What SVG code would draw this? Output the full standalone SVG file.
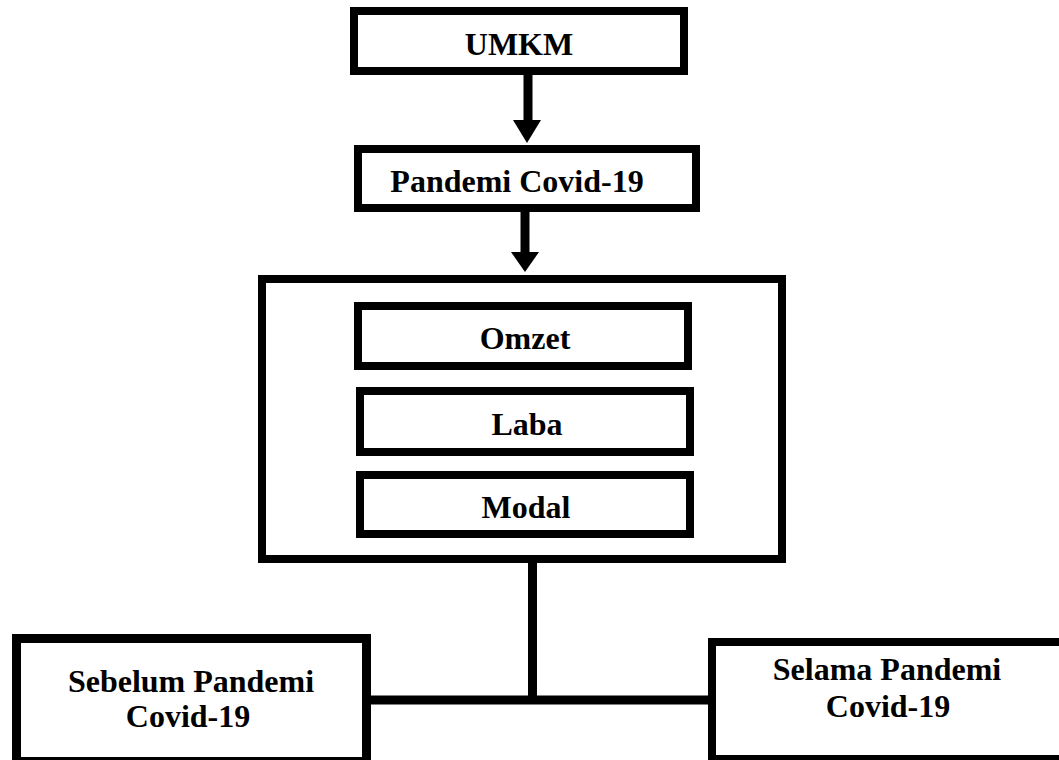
<svg xmlns="http://www.w3.org/2000/svg" width="1059" height="760" viewBox="0 0 1059 760">
<style>
.box{fill:#fff;stroke:#000;stroke-width:8}
.t{font-family:"Liberation Serif","Times New Roman",serif;font-weight:bold;font-size:32px;fill:#000;text-anchor:middle}
.ln{stroke:#000;stroke-width:9;fill:none}
</style>
<rect width="1059" height="760" fill="#fff"/>
<g id="connectors">
<line class="ln" x1="528" y1="75" x2="528" y2="122"/>
<polygon points="513,120 541,120 527,143"/>
<line class="ln" x1="525" y1="212" x2="525" y2="255"/>
<polygon points="511,252 539,252 525,272"/>
<line class="ln" x1="532.5" y1="562" x2="532.5" y2="701"/>
<line class="ln" x1="370" y1="700" x2="709" y2="700"/>
</g>
<g id="umkm">
<rect class="box" x="354" y="11" width="330" height="60" style="stroke-width:8"/>
<text class="t" x="519" y="55">UMKM</text>
</g>
<g id="pandemi">
<rect class="box" x="358" y="149" width="338" height="59"/>
<text class="t" x="517" y="192">Pandemi Covid-19</text>
</g>
<g id="group">
<rect class="box" x="262" y="279" width="520" height="280"/>
</g>
<g id="omzet">
<rect class="box" x="358" y="306" width="330" height="60"/>
<text class="t" x="525" y="349">Omzet</text>
</g>
<g id="laba">
<rect class="box" x="360" y="391" width="330" height="61"/>
<text class="t" x="527" y="435">Laba</text>
</g>
<g id="modal">
<rect class="box" x="360" y="475" width="330" height="59"/>
<text class="t" x="526" y="518">Modal</text>
</g>
<g id="sebelum">
<rect class="box" x="16.5" y="638.5" width="350" height="123" style="stroke-width:9"/>
<text class="t" x="191" y="692">Sebelum Pandemi</text>
<text class="t" x="188" y="727">Covid-19</text>
</g>
<g id="selama">
<rect class="box" x="712" y="642" width="360" height="117"/>
<text class="t" x="887" y="680">Selama Pandemi</text>
<text class="t" x="888" y="717">Covid-19</text>
</g>
</svg>
